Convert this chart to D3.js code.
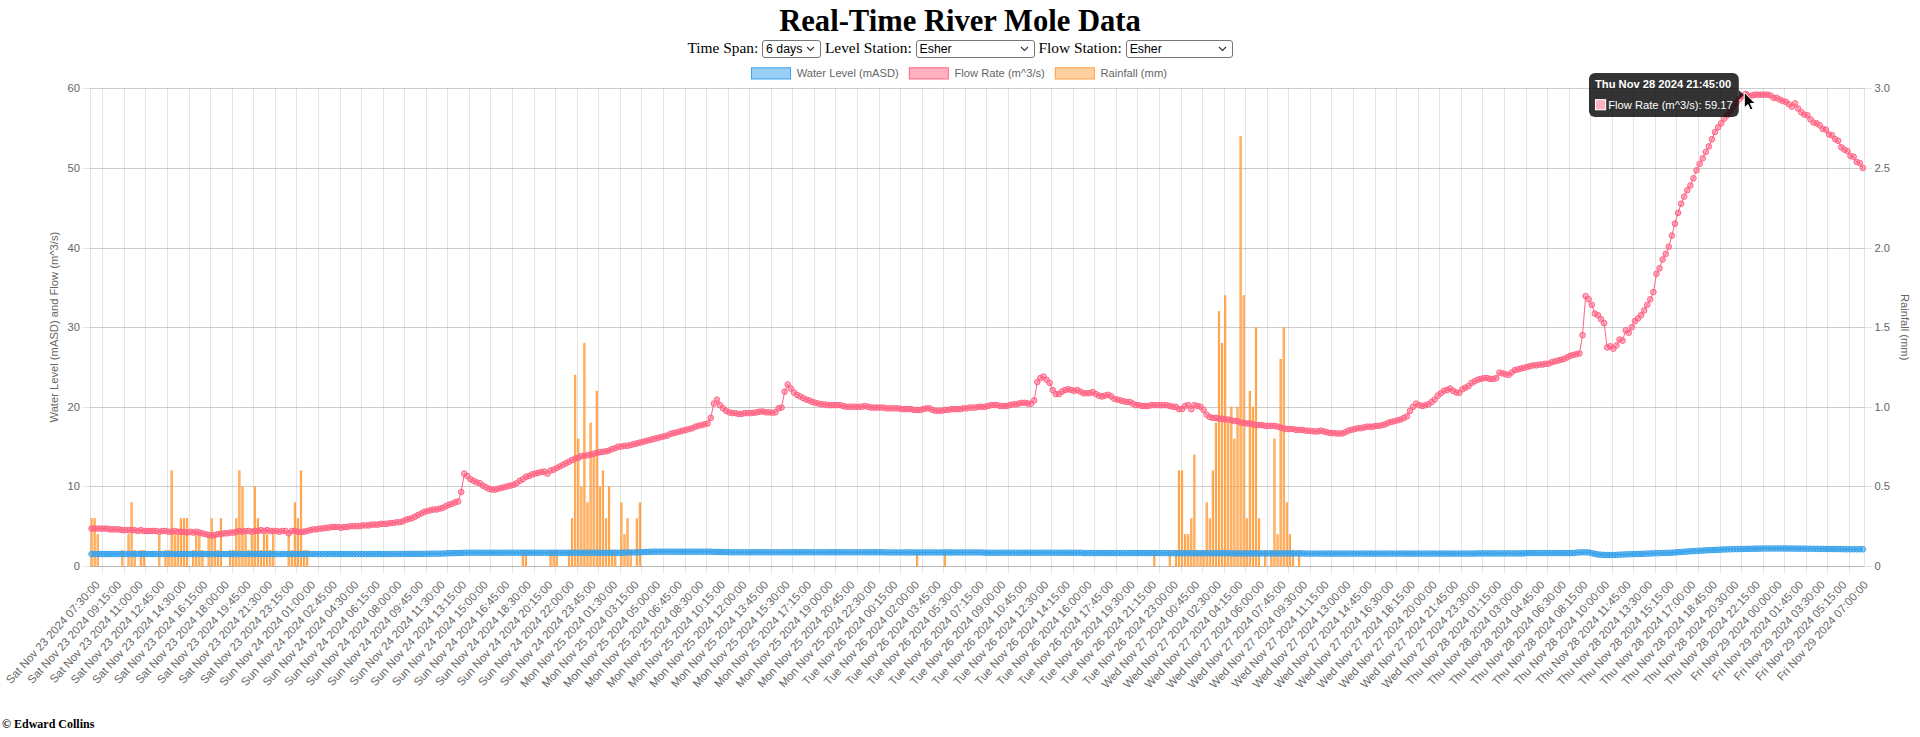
<!DOCTYPE html>
<html>
<head>
<meta charset="utf-8">
<title>Real-Time River Mole Data</title>
<script src="https://cdn.jsdelivr.net/npm/d3@7"></script>
<style>
  body { margin: 0; width: 1920px; height: 737px; overflow: hidden; position: relative; background: #fff;
         font-family: "Liberation Serif", "Times New Roman", serif; }
  h1 { position: absolute; top: 4.5px; left: 0; width: 1920px; margin: 0; text-align: center;
       font-size: 30.6px; line-height: 32px; font-weight: bold; z-index: 2; }
  #controls { position: absolute; top: 37px; left: 0; width: 1920px; text-align: center;
              font-size: 15.4px; line-height: 22px; z-index: 2; }
  select { -webkit-appearance: none; appearance: none; box-sizing: border-box; height: 18px;
           font: 12.3px "Liberation Sans", Arial, sans-serif; color: #000; padding: 0 0 0 3px;
           border: 1px solid #767676; border-radius: 3px;
           background: #fff url("data:image/svg+xml;utf8,<svg xmlns='http://www.w3.org/2000/svg' width='9' height='6'><path d='M1 1l3.5 3.5L8 1' fill='none' stroke='%23333' stroke-width='1.1'/></svg>") no-repeat right 5px center; }
  #span { width: 59px; }
  #level { width: 119px; }
  #flowst { width: 107px; }
  #chart { position: absolute; top: 0; left: 0; z-index: 1; }
  #copy { position: absolute; left: 2px; top: 717px; margin: 0; font-size: 12px; line-height: 14px; font-weight: bold; z-index: 2; }
</style>
</head>
<body>
<h1>Real-Time River Mole Data</h1>
<div id="controls">Time Span: <select id="span"><option>1 day</option><option>3 days</option><option selected>6 days</option></select> Level Station: <select id="level"><option>Esher</option></select> Flow Station: <select id="flowst"><option>Esher</option></select></div>
<svg id="chart" width="1920" height="737"></svg>
<p id="copy">© Edward Collins</p>
<script>
// readings every 15 minutes from Sat 23 Nov 07:30, one row per hour
var startTime = new Date(2024, 10, 23, 7, 30);
var stepMinutes = 15;
var labelEvery = 7;

var seriesNames = ["Water Level (mASD)", "Flow Rate (m^3/s)", "Rainfall (mm)"];
var leftTicks = [0, 10, 20, 30, 40, 50, 60];
var rightTicks = [0, 0.5, 1, 1.5, 2, 2.5, 3];

var flowSat = [4.7, 4.7,
  4.7, 4.7, 4.7, 4.7,  4.6, 4.6, 4.6, 4.6,  4.5, 4.5, 4.5, 4.5,  4.5, 4.4, 4.5, 4.4,
  4.4, 4.4, 4.4, 4.4,  4.3, 4.4, 4.4, 4.3,  4.3, 4.4, 4.3, 4.3,  4.3, 4.2, 4.3, 4.2,
  4.3, 4.2, 4.1, 4.0,  3.9, 3.8, 3.9, 4.0,  4.0, 4.1, 4.1, 4.2,  4.2, 4.3, 4.4, 4.3,
  4.4, 4.4, 4.3, 4.4,  4.4, 4.5, 4.4, 4.5,  4.4, 4.4, 4.4, 4.3,  4.4, 4.4, 4.1, 4.4];
var flowSun = [
  4.4, 4.3, 4.3, 4.3,  4.4, 4.5, 4.6, 4.6,  4.7, 4.7, 4.8, 4.8,  4.9, 4.9, 4.9, 4.8,
  4.9, 4.9, 5.0, 5.0,  5.0, 5.0, 5.1, 5.1,  5.1, 5.2, 5.2, 5.2,  5.3, 5.3, 5.3, 5.4,
  5.4, 5.5, 5.5, 5.6,  5.8, 5.9, 6.0, 6.2,  6.4, 6.6, 6.8, 6.9,  7.0, 7.1, 7.1, 7.2,
  7.3, 7.5, 7.7, 7.8,  8.0, 8.1, 9.3, 11.6,  11.3, 10.9, 10.7, 10.5,  10.4, 10.1, 9.9, 9.7,
  9.6, 9.6, 9.7, 9.8,  9.9, 10.0, 10.1, 10.2,  10.4, 10.7, 10.9, 11.2,  11.3, 11.5, 11.6, 11.7,
  11.8, 11.85, 11.6, 12.0,  12.1, 12.3, 12.5, 12.7,  12.9, 13.1, 13.3, 13.5,  13.6, 13.8, 13.85, 13.9];
var flowMon = [
  14.0, 14.1, 14.2, 14.3,  14.35, 14.4, 14.5, 14.7,  14.8, 15.0, 15.0, 15.1,  15.1, 15.2, 15.3, 15.4,
  15.5, 15.6, 15.7, 15.8,  15.9, 16.0, 16.1, 16.2,  16.3, 16.4, 16.6, 16.7,  16.8, 16.9, 17.0, 17.1,
  17.2, 17.3, 17.5, 17.6,  17.7, 17.8, 17.9, 18.6,  20.4, 20.9, 20.2, 19.8,  19.5, 19.3, 19.2, 19.2,
  19.1, 19.1, 19.2, 19.2,  19.2, 19.25, 19.3, 19.4,  19.4, 19.3, 19.3, 19.25,  19.3, 19.8, 19.9, 21.9,
  22.8, 22.3, 21.8, 21.5,  21.3, 21.1, 20.9, 20.8,  20.6, 20.5, 20.4, 20.3,  20.3, 20.2, 20.2, 20.2,
  20.2, 20.2, 20.1, 20.0,  20.0, 20.0, 20.0, 20.0,  20.0, 20.1, 20.0, 19.9,  19.9, 19.9, 19.9, 19.9];
var flowTue = [
  19.8, 19.8, 19.8, 19.8,  19.8, 19.7, 19.7, 19.7,  19.7, 19.6, 19.6, 19.6,  19.7, 19.8, 19.8, 19.6,
  19.5, 19.5, 19.5, 19.6,  19.6, 19.7, 19.7, 19.7,  19.7, 19.8, 19.8, 19.9,  19.9, 19.9, 20.0, 20.0,
  20.0, 20.1, 20.2, 20.2,  20.2, 20.1, 20.1, 20.1,  20.2, 20.3, 20.3, 20.4,  20.5, 20.5, 20.4, 20.4,
  20.8, 23.1, 23.6, 23.8,  23.4, 23.0, 22.1, 21.6,  21.6, 21.9, 22.1, 22.2,  22.1, 22.0, 22.1, 21.9,
  21.7, 21.7, 21.7, 21.85,  21.6, 21.4, 21.3, 21.4,  21.5, 21.3, 21.0, 20.9,  20.8, 20.7, 20.6, 20.6,
  20.4, 20.2, 20.2, 20.1,  20.1, 20.1, 20.2, 20.2,  20.2, 20.2, 20.2, 20.2,  20.1, 20.0, 20.0, 19.7];
var flowWed = [
  19.7, 20.1, 20.2, 19.7,  20.2, 20.1, 20.0, 19.6,  19.0, 18.7, 18.6, 18.6,  18.5, 18.5, 18.4, 18.4,
  18.3, 18.2, 18.2, 18.0,  18.0, 17.9, 17.9, 17.8,  17.7, 17.7, 17.7, 17.6,  17.6, 17.6, 17.6, 17.5,
  17.4, 17.3, 17.2, 17.2,  17.2, 17.1, 17.1, 17.1,  17.0, 17.0, 16.95, 16.9,  16.9, 17.0, 16.9, 16.8,
  16.7, 16.7, 16.65, 16.65,  16.65, 16.8, 17.0, 17.1,  17.2, 17.3, 17.3, 17.4,  17.5, 17.5, 17.5, 17.6,
  17.6, 17.7, 17.8, 18.0,  18.1, 18.2, 18.3, 18.4,  18.6, 18.8, 19.5, 20.0,  20.4, 20.2, 20.1, 20.2,
  20.3, 20.6, 20.9, 21.4,  21.7, 22.0, 22.1, 22.3,  22.0, 21.8, 21.75, 22.2,  22.4, 22.6, 23.0, 23.2];
var flowThu = [
  23.4, 23.5, 23.6, 23.6,  23.5, 23.5, 23.6, 24.3,  24.2, 24.1, 24.0, 24.3,  24.6, 24.7, 24.8, 24.9,
  25.0, 25.1, 25.2, 25.2,  25.3, 25.3, 25.4, 25.4,  25.6, 25.7, 25.8, 25.9,  26.0, 26.2, 26.4, 26.5,
  26.6, 26.7, 29.0, 33.9,  33.5, 32.8, 31.7, 31.5,  31.0, 30.5, 27.45, 27.6,  27.3, 27.7, 28.45, 28.3,
  29.6, 29.3, 30.0, 30.75,  31.1, 31.5, 32.1, 32.8,  33.5, 34.4, 36.7, 37.4,  38.5, 39.2, 40.1, 41.5,
  43.0, 44.35, 45.5, 46.4,  47.2, 47.8, 48.7, 49.7,  50.5, 51.2, 52.0, 52.7,  53.6, 54.5, 55.1, 55.6,
  56.2, 56.6, 57.2, 57.7,  58.2, 58.7, 59.0, 59.17,  59.0, 59.1, 59.2, 59.2,  59.2, 59.2, 59.2, 59.1];
var flowFri = [
  58.8, 58.8, 58.6, 58.4,  58.3, 58.0, 57.7, 58.1,  57.45, 57.0, 56.7, 56.6,  56.1, 55.7, 55.6, 55.35,
  54.9, 54.8, 54.2, 54.1,  53.6, 53.4, 52.6, 52.3,  52.1, 51.5, 51.4, 50.75,  50.6, 50.0];

var levelSat = [1.5, 1.5,
  1.5, 1.5, 1.5, 1.5,  1.5, 1.5, 1.5, 1.5,  1.5, 1.5, 1.5, 1.5,  1.5, 1.5, 1.5, 1.5,
  1.5, 1.5, 1.5, 1.5,  1.5, 1.5, 1.5, 1.5,  1.5, 1.5, 1.5, 1.5,  1.5, 1.5, 1.5, 1.5,
  1.5, 1.5, 1.5, 1.5,  1.5, 1.5, 1.5, 1.5,  1.5, 1.5, 1.5, 1.5,  1.5, 1.5, 1.5, 1.5,
  1.5, 1.5, 1.5, 1.5,  1.5, 1.5, 1.5, 1.5,  1.5, 1.5, 1.5, 1.5,  1.5, 1.5, 1.5, 1.5];
var levelSun = [
  1.5, 1.5, 1.5, 1.5,  1.5, 1.5, 1.5, 1.5,  1.5, 1.5, 1.5, 1.5,  1.5, 1.5, 1.5, 1.5,
  1.5, 1.5, 1.5, 1.5,  1.5, 1.5, 1.5, 1.5,  1.5, 1.5, 1.5, 1.5,  1.5, 1.5, 1.5, 1.5,
  1.51, 1.51, 1.51, 1.51,  1.52, 1.52, 1.52, 1.52,  1.53, 1.53, 1.53, 1.53,  1.55, 1.55, 1.55, 1.55,
  1.57, 1.58, 1.6, 1.6,  1.62, 1.63, 1.65, 1.66,  1.67, 1.67, 1.67, 1.67,  1.67, 1.67, 1.67, 1.67,
  1.67, 1.67, 1.67, 1.67,  1.67, 1.67, 1.67, 1.67,  1.67, 1.67, 1.67, 1.67,  1.67, 1.67, 1.67, 1.67,
  1.67, 1.67, 1.67, 1.67,  1.67, 1.67, 1.67, 1.67,  1.67, 1.67, 1.67, 1.67,  1.67, 1.67, 1.67, 1.67];
var levelMon = [
  1.67, 1.67, 1.67, 1.67,  1.67, 1.67, 1.67, 1.67,  1.67, 1.67, 1.67, 1.67,  1.7, 1.7, 1.7, 1.7,
  1.72, 1.74, 1.76, 1.78,  1.8, 1.8, 1.8, 1.8,  1.8, 1.8, 1.8, 1.8,  1.8, 1.8, 1.8, 1.8,
  1.8, 1.8, 1.8, 1.8,  1.8, 1.8, 1.8, 1.8,  1.78, 1.77, 1.76, 1.75,  1.74, 1.73, 1.72, 1.72,
  1.72, 1.72, 1.72, 1.72,  1.72, 1.72, 1.72, 1.72,  1.72, 1.72, 1.72, 1.72,  1.72, 1.72, 1.72, 1.72,
  1.72, 1.72, 1.72, 1.72,  1.72, 1.72, 1.72, 1.72,  1.72, 1.72, 1.72, 1.72,  1.72, 1.72, 1.72, 1.72,
  1.72, 1.72, 1.72, 1.72,  1.72, 1.72, 1.72, 1.72,  1.72, 1.72, 1.72, 1.72,  1.72, 1.72, 1.72, 1.72];
var levelTue = [
  1.7, 1.7, 1.7, 1.7,  1.7, 1.7, 1.7, 1.7,  1.7, 1.7, 1.7, 1.7,  1.7, 1.7, 1.7, 1.7,
  1.7, 1.7, 1.7, 1.7,  1.7, 1.7, 1.7, 1.7,  1.7, 1.7, 1.7, 1.7,  1.7, 1.7, 1.7, 1.7,
  1.67, 1.67, 1.67, 1.67,  1.67, 1.67, 1.67, 1.67,  1.67, 1.67, 1.67, 1.67,  1.67, 1.67, 1.67, 1.67,
  1.67, 1.67, 1.67, 1.67,  1.67, 1.67, 1.67, 1.67,  1.67, 1.67, 1.67, 1.67,  1.67, 1.67, 1.67, 1.67,
  1.62, 1.62, 1.62, 1.62,  1.62, 1.62, 1.62, 1.62,  1.62, 1.62, 1.62, 1.62,  1.62, 1.62, 1.62, 1.62,
  1.62, 1.62, 1.62, 1.62,  1.62, 1.62, 1.62, 1.62,  1.62, 1.62, 1.62, 1.62,  1.61, 1.6, 1.6, 1.6];
var levelWed = [
  1.6, 1.6, 1.6, 1.6,  1.6, 1.6, 1.6, 1.6,  1.6, 1.6, 1.6, 1.6,  1.6, 1.6, 1.6, 1.6,
  1.58, 1.58, 1.58, 1.58,  1.58, 1.58, 1.58, 1.58,  1.58, 1.58, 1.58, 1.58,  1.58, 1.58, 1.58, 1.58,
  1.58, 1.58, 1.58, 1.58,  1.58, 1.58, 1.58, 1.58,  1.56, 1.56, 1.56, 1.56,  1.56, 1.56, 1.56, 1.56,
  1.56, 1.56, 1.56, 1.56,  1.56, 1.56, 1.56, 1.56,  1.56, 1.56, 1.56, 1.56,  1.56, 1.56, 1.56, 1.56,
  1.56, 1.56, 1.56, 1.56,  1.56, 1.56, 1.56, 1.56,  1.56, 1.56, 1.56, 1.56,  1.56, 1.56, 1.56, 1.56,
  1.56, 1.56, 1.56, 1.56,  1.56, 1.56, 1.56, 1.56,  1.56, 1.56, 1.56, 1.56,  1.56, 1.56, 1.56, 1.56];
var levelThu = [
  1.58, 1.58, 1.58, 1.58,  1.58, 1.58, 1.58, 1.58,  1.58, 1.58, 1.58, 1.58,  1.58, 1.58, 1.58, 1.58,
  1.62, 1.62, 1.62, 1.62,  1.62, 1.62, 1.62, 1.62,  1.62, 1.62, 1.62, 1.62,  1.62, 1.62, 1.62, 1.62,
  1.68, 1.7, 1.72, 1.72,  1.7, 1.62, 1.52, 1.45,  1.42, 1.4, 1.38, 1.38,  1.38, 1.4, 1.42, 1.44,
  1.46, 1.47, 1.48, 1.49,  1.5, 1.52, 1.54, 1.56,  1.57, 1.59, 1.6, 1.62,  1.63, 1.65, 1.66, 1.67,
  1.7, 1.73, 1.76, 1.79,  1.82, 1.85, 1.87, 1.9,  1.92, 1.94, 1.96, 1.98,  2.0, 2.02, 2.04, 2.06,
  2.08, 2.09, 2.1, 2.11,  2.12, 2.13, 2.14, 2.15,  2.16, 2.17, 2.18, 2.18,  2.19, 2.2, 2.2, 2.2];
var levelFri = [
  2.2, 2.2, 2.2, 2.2,  2.2, 2.19, 2.19, 2.19,  2.18, 2.18, 2.18, 2.17,  2.17, 2.16, 2.16, 2.15,
  2.15, 2.14, 2.14, 2.13,  2.13, 2.12, 2.12, 2.11,  2.11, 2.1, 2.1, 2.1,  2.1, 2.1];

// rainfall: 15-minute slot number and amount in mm (slots without rain are 0)
var rainSlot = [0, 1, 2, 10, 12, 13, 14, 16, 17, 22, 24, 25, 26, 27, 28, 29, 30, 31, 33, 34,
  35, 36, 38, 39, 40, 41, 42, 45, 46, 47, 48, 49, 50, 51, 52, 53, 54, 55, 56, 57, 58, 59, 64, 65, 66, 67, 68, 69, 70,
  140, 141, 149, 150, 151, 155, 156, 157, 158, 159, 160, 161, 162, 163, 164, 165, 166, 167, 168, 169,
  170, 172, 173, 174, 175, 177, 178,
  268, 277,
  345, 350, 352, 353, 354, 355, 356, 357, 358, 359, 360, 361, 362, 363, 364, 365, 366, 367, 368, 369,
  370, 371, 372, 373, 374, 375, 376, 377, 378, 379, 381, 383, 384, 385, 386, 387, 388, 389, 390, 392];
var rainMm = [0.3, 0.3, 0.2, 0.1, 0.2, 0.4, 0.1, 0.1, 0.1, 0.2, 0.1, 0.1, 0.6, 0.2, 0.2, 0.3, 0.3, 0.3, 0.1, 0.2,
  0.2, 0.1, 0.2, 0.3, 0.2, 0.1, 0.3, 0.1, 0.1, 0.3, 0.6, 0.5, 0.2, 0.1, 0.2, 0.5, 0.3, 0.1, 0.2, 0.2, 0.1, 0.2, 0.2, 0.1, 0.4, 0.3, 0.6, 0.1, 0.1,
  0.1, 0.1, 0.1, 0.1, 0.1, 0.1, 0.3, 1.2, 0.8, 0.5, 1.4, 0.4, 0.9, 0.7, 1.1, 0.5, 0.6, 0.3, 0.5, 0.1,
  0.1, 0.4, 0.2, 0.3, 0.1, 0.3, 0.4,
  0.1, 0.1,
  0.1, 0.1, 0.1, 0.6, 0.6, 0.2, 0.2, 0.3, 0.7, 0.1, 0.1, 0.1, 0.4, 0.3, 0.6, 0.9, 1.6, 1.4, 1.7, 0.9,
  1.0, 0.8, 1.0, 2.7, 1.7, 0.3, 1.1, 1.0, 1.5, 0.3, 0.1, 0.1, 0.8, 0.2, 1.3, 1.5, 0.4, 0.2, 0.1, 0.1];

var hoverIndex = 537; // Thu 21:45, where the pointer sits

var flow = [].concat(flowSat, flowSun, flowMon, flowTue, flowWed, flowThu, flowFri);
var level = [].concat(levelSat, levelSun, levelMon, levelTue, levelWed, levelThu, levelFri);
var n = flow.length;
var times = d3.range(n).map(function(i) { return d3.timeMinute.offset(startTime, i * stepMinutes); });
var fmt = d3.timeFormat("%a %b %d %Y %H:%M:%S");
var labelIdx = d3.range(0, n, labelEvery);

var fontFamily = '"Liberation Sans", Arial, Helvetica, sans-serif';
var fontSize = 11.2;
var textColor = "#666";
var gridColor = "rgba(0,0,0,0.1)";
var blue = "rgb(54,162,235)", pink = "rgb(255,99,132)", orange = "rgb(255,159,64)";
var blueFill = "rgba(54,162,235,0.5)", pinkFill = "rgba(255,99,132,0.5)", orangeFill = "rgba(255,159,64,0.5)";

var svg = d3.select("#chart"),
  plotLeft = 90, plotRight = 1864.4,
  plotTop = 88.3, plotBottom = 566,
  tickLen = 7.4, tickPad = 2.6;

var x = d3.scaleBand().domain(d3.range(n)).range([plotLeft, plotRight]).paddingInner(0).paddingOuter(0);
var yLeft = d3.scaleLinear().domain([0, 60]).range([plotBottom, plotTop]);
var yRight = d3.scaleLinear().domain([0, 3]).range([plotBottom, plotTop]);
function cx(i) { return x(i) + x.bandwidth() / 2; }
function crisp(v) { return Math.round(v) + 0.5; }

// vertical grid lines sit half way between the shown labels
var gridX = d3.range(1, labelIdx.length).map(function(k) {
  return (cx(labelIdx[k - 1]) + cx(labelIdx[k])) / 2;
});
var grid = svg.append("g").attr("stroke", gridColor).attr("stroke-width", 1);
grid.selectAll(".vx").data(gridX).enter().append("line")
  .attr("x1", function(d) { return crisp(d); }).attr("x2", function(d) { return crisp(d); })
  .attr("y1", plotTop).attr("y2", plotBottom + tickLen);
// horizontal lines are drawn by both y axes
grid.selectAll(".hl").data(leftTicks).enter().append("line")
  .attr("x1", plotLeft - tickLen).attr("x2", plotRight)
  .attr("y1", function(d) { return crisp(yLeft(d)); }).attr("y2", function(d) { return crisp(yLeft(d)); });
grid.selectAll(".hr").data(rightTicks).enter().append("line")
  .attr("x1", plotLeft).attr("x2", plotRight + tickLen)
  .attr("y1", function(d) { return crisp(yRight(d)); }).attr("y2", function(d) { return crisp(yRight(d)); });
grid.append("line").attr("x1", crisp(plotLeft)).attr("x2", crisp(plotLeft)).attr("y1", plotTop).attr("y2", plotBottom);
grid.append("line").attr("x1", crisp(plotRight)).attr("x2", crisp(plotRight)).attr("y1", plotTop).attr("y2", plotBottom);
grid.append("line").attr("x1", plotLeft).attr("x2", plotRight).attr("y1", crisp(plotBottom)).attr("y2", crisp(plotBottom));

// axes
var gyl = svg.append("g").attr("transform", "translate(" + plotLeft + ",0)")
  .call(d3.axisLeft(yLeft).tickValues(leftTicks).tickSize(0).tickPadding(tickLen + tickPad));
var gyr = svg.append("g").attr("transform", "translate(" + plotRight + ",0)")
  .call(d3.axisRight(yRight).tickValues(rightTicks).tickSize(0).tickPadding(tickLen + tickPad)
    .tickFormat(function(d) { return d === 0 ? "0" : d3.format(".1f")(d); }));
var gx = svg.append("g").attr("transform", "translate(0," + plotBottom + ")")
  .call(d3.axisBottom(x).tickValues(labelIdx).tickSize(0).tickPadding(0)
    .tickFormat(function(i) { return fmt(times[i]); }));
[gyl, gyr, gx].forEach(function(g) {
  g.select(".domain").remove();
  g.attr("font-family", fontFamily).attr("font-size", fontSize);
  g.selectAll("text").attr("fill", textColor);
});
// labels are turned 48 degrees, their end at the tick
gx.attr("font-size", 11.5);
gx.selectAll("text")
  .attr("y", 10.7).attr("dy", null).attr("x", 0)
  .attr("text-anchor", "end")
  .attr("transform", "translate(1," + (tickLen + tickPad + 2) + ") rotate(-48)");

svg.append("text")
  .attr("transform", "translate(53.6," + (plotTop + plotBottom) / 2 + ") rotate(-90)")
  .attr("text-anchor", "middle").attr("dy", "0.35em")
  .attr("font-family", fontFamily).attr("font-size", fontSize).attr("fill", textColor)
  .text("Water Level (mASD) and Flow (m^3/s)");
svg.append("text")
  .attr("transform", "translate(1905," + (plotTop + plotBottom) / 2 + ") rotate(90)")
  .attr("text-anchor", "middle").attr("dy", "0.35em")
  .attr("font-family", fontFamily).attr("font-size", fontSize).attr("fill", textColor)
  .text("Rainfall (mm)");

// rainfall bars (drawn first, underneath the lines)
var barW = x.bandwidth() * 0.8 * 0.9;
svg.append("g").selectAll("rect")
  .data(rainSlot.map(function(s, k) { return { i: s, v: rainMm[k] }; }))
  .enter().append("rect")
  .attr("x", function(d) { return cx(d.i) - barW / 2 + 0.5; })
  .attr("y", function(d) { return yRight(d.v) + 0.5; })
  .attr("width", barW - 1)
  .attr("height", function(d) { return yRight(0) - yRight(d.v) - 0.5; })
  .attr("fill", orangeFill).attr("stroke", orange).attr("stroke-width", 1);

function drawSeries(values, stroke, fill) {
  var g = svg.append("g");
  g.append("path")
    .datum(values)
    .attr("fill", "none").attr("stroke", stroke).attr("stroke-width", 1)
    .attr("d", d3.line().x(function(d, i) { return cx(i); }).y(function(d) { return yLeft(d); }));
  g.selectAll("circle").data(values).enter().append("circle")
    .attr("cx", function(d, i) { return cx(i); })
    .attr("cy", function(d) { return yLeft(d); })
    .attr("r", 2.8)
    .attr("fill", fill).attr("stroke", stroke).attr("stroke-width", 1);
  return g;
}
drawSeries(flow, pink, pinkFill);
drawSeries(level, blue, blueFill);

// legend
var legendItems = [
  { label: seriesNames[0], fill: blueFill, stroke: blue },
  { label: seriesNames[1], fill: pinkFill, stroke: pink },
  { label: seriesNames[2], fill: orangeFill, stroke: orange }
];
var legend = svg.append("g").attr("font-family", fontFamily).attr("font-size", fontSize);
var items = legend.selectAll("g").data(legendItems).enter().append("g");
items.append("rect")
  .attr("x", 0.5).attr("y", 0.5).attr("width", 39).attr("height", fontSize)
  .attr("fill", function(d) { return d.fill; }).attr("stroke", function(d) { return d.stroke; }).attr("stroke-width", 1);
items.append("text")
  .attr("x", 40 + fontSize / 2).attr("y", fontSize / 2 + 0.5).attr("dy", "0.35em")
  .attr("fill", textColor).text(function(d) { return d.label; });
var widths = [];
items.each(function() {
  widths.push(40 + fontSize / 2 + d3.select(this).select("text").node().getComputedTextLength());
});
var lx = 959 - (d3.sum(widths) + 10 * (widths.length - 1)) / 2;
items.attr("transform", function(d, i) {
  var at = lx;
  lx += widths[i] + 10;
  return "translate(" + at + ",67.3)";
});

// hovered point and tooltip
var px = cx(hoverIndex), py = yLeft(flow[hoverIndex]);
svg.append("circle").attr("cx", px).attr("cy", py).attr("r", 3.7)
  .attr("fill", pinkFill).attr("stroke", pink).attr("stroke-width", 1);

var tip = svg.append("g").attr("font-family", fontFamily).attr("font-size", fontSize).attr("fill", "#fff");
var tipBg = tip.append("rect").attr("rx", 6).attr("ry", 6).attr("fill", "rgba(0,0,0,0.8)");
var tipCaret = tip.append("path").attr("fill", "rgba(0,0,0,0.8)");
var tipTitle = tip.append("text").attr("font-weight", "bold").text(fmt(times[hoverIndex]));
var tipBody = tip.append("text").text(seriesNames[1] + ": " + flow[hoverIndex]);
var tw = Math.max(tipTitle.node().getComputedTextLength(),
                  fontSize + 2 + tipBody.node().getComputedTextLength()) + 12;
var th = 44;
var tx = px - 7 - tw, ty = py - th / 2;
tipBg.attr("x", tx).attr("y", ty).attr("width", tw).attr("height", th);
tipCaret.attr("d", "M" + (tx + tw) + "," + (py - 5) + "L" + (tx + tw + 5) + "," + py + "L" + (tx + tw) + "," + (py + 5) + "Z");
tipTitle.attr("x", tx + 6).attr("y", ty + 15);
tip.append("rect").attr("x", tx + 6).attr("y", ty + 26.2).attr("width", fontSize).attr("height", fontSize)
  .attr("fill", "#fff");
tip.append("rect").attr("x", tx + 7).attr("y", ty + 27.2).attr("width", fontSize - 2).attr("height", fontSize - 2)
  .attr("fill", "rgb(255,177,193)");
tipBody.attr("x", tx + 6 + fontSize + 2).attr("y", ty + 36.2);

// mouse pointer
svg.append("path")
  .attr("transform", "translate(" + (px - 1.5) + "," + (py - 2.5) + ")")
  .attr("d", "M0,0 L0,15.5 L3.6,12.1 L6.1,17.6 L8.6,16.5 L6.1,11.1 L10.9,11.1 Z")
  .attr("fill", "#000").attr("stroke", "#fff").attr("stroke-width", 1).attr("stroke-linejoin", "round");
</script>
</body>
</html>
